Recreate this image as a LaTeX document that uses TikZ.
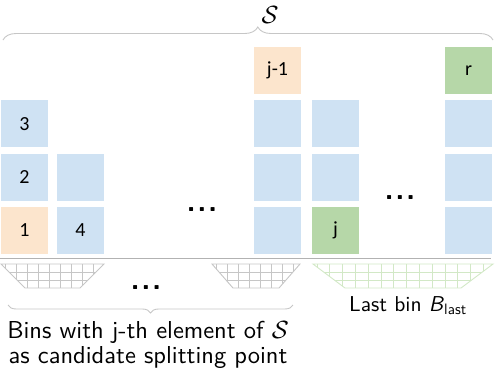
\documentclass[tikz,border=0pt]{standalone}
\usepackage{fontspec}
\newfontfamily\boxfont{Carlito}
\newfontfamily\capfont{lmsans10-regular.otf}[SlantedFont=lmsans10-oblique.otf, BoldFont=lmsans10-bold.otf]
\usetikzlibrary{decorations.pathreplacing}

\definecolor{binblue}{HTML}{CFE2F3}
\definecolor{binorange}{HTML}{FCE5CD}
\definecolor{bingreen}{HTML}{B6D7A8}
\definecolor{gridgray}{HTML}{C6C6C6}
\definecolor{gridgreen}{HTML}{D2E8C6}

\begin{document}
\begin{tikzpicture}[x=1pt, y=-1pt,
  elem/.style={minimum size=47pt, inner sep=0pt, font=\boxfont\fontsize{20}{20}\selectfont},
  captext/.style={inner sep=0pt, font=\capfont\fontsize{24.5}{24.4}\selectfont},
  gap/.style={inner sep=0pt, font=\capfont\bfseries\fontsize{30}{30}\selectfont},
  brace/.style={gridgray, line width=0.9pt, decorate}]
  \useasboundingbox (0,0) rectangle (496,370);

  % Set S
  \node[inner sep=0pt, font=\fontsize{26}{26}\selectfont] (setS) at (270,15) {$\mathcal{S}$};
  \draw[brace, decoration={brace, amplitude=13pt, aspect=0.52}] (3,40) -- (493,40);

  % Elements
  \node[elem, fill=binblue]   (e3) at (24.5,123.8) {3};
  \node[elem, fill=binblue]   (e2) at (24.5,177.1) {2};
  \node[elem, fill=binorange] (e1) at (24.5,230.4) {1};
  \node[elem, fill=binblue]   (e5) at (80.5,177.1) {};
  \node[elem, fill=binblue]   (e4) at (80.5,230.4) {4};

  \node[elem, fill=binorange] (jm1) at (277.5,70.5) {j-1};
  \foreach \y/\n in {123.8/a, 177.1/b, 230.4/c}
    \node[elem, fill=binblue] (jm1\n) at (277.5,\y) {};

  \node[elem, fill=binblue]  (ja) at (335.5,123.8) {};
  \node[elem, fill=binblue]  (jb) at (335.5,177.1) {};
  \node[elem, fill=bingreen] (j)  at (335.5,230.4) {j};

  \node[elem, fill=bingreen] (r) at (468.5,70.5) {r};
  \foreach \y/\n in {123.8/a, 177.1/b, 230.4/c}
    \node[elem, fill=binblue] (r\n) at (468.5,\y) {};

  \node[gap, anchor=base] (gapA) at (202,211.5) {.\kern1.5pt.\kern1.5pt.};
  \node[gap, anchor=base] (gapB) at (400,199) {.\kern1.5pt.\kern1.5pt.};

  % Floor line
  \draw[gridgray!90!black, line width=1.2pt] (0,258.5) -- (491,258.5);

  % Bins
  \foreach \l/\r/\i/\s/\c in {1/104/24/11/gridgray, 212/300/21/11/gridgray, 313/493/32/12.8/gridgreen} {
    \begin{scope}
      \clip (\l,264) -- (\r,264) -- (\r-\i,288) -- (\l+\i,288) -- cycle;
      \foreach \k in {0,...,14}
        \draw[\c, line width=0.8pt] (\l+4+\k*\s,264) -- (\l+4+\k*\s,288);
      \draw[\c, line width=0.8pt] (\l,272) -- (\r,272) (\l,280) -- (\r,280);
    \end{scope}
    \draw[\c, line width=0.9pt] (\l,264) -- (\r,264) -- (\r-\i,288) -- (\l+\i,288) -- cycle;
  }
  \node[gap, anchor=base] (gapC) at (146,289.5) {.\kern1.5pt.\kern1.5pt.};

  % Captions
  \draw[brace, decoration={brace, amplitude=8pt, aspect=0.5}] (293,305) -- (8,305);
  \node[captext, align=center, anchor=north] (cand) at (148,321.3)
    {Bins with j-th element of $\mathcal{S}$\\as candidate splitting point};
  \node[captext, font=\capfont\fontsize{21.5}{24}\selectfont, anchor=base] (last) at (408,311)
    {Last bin \textsl{B}\textsubscript{last}};
\end{tikzpicture}
\end{document}
